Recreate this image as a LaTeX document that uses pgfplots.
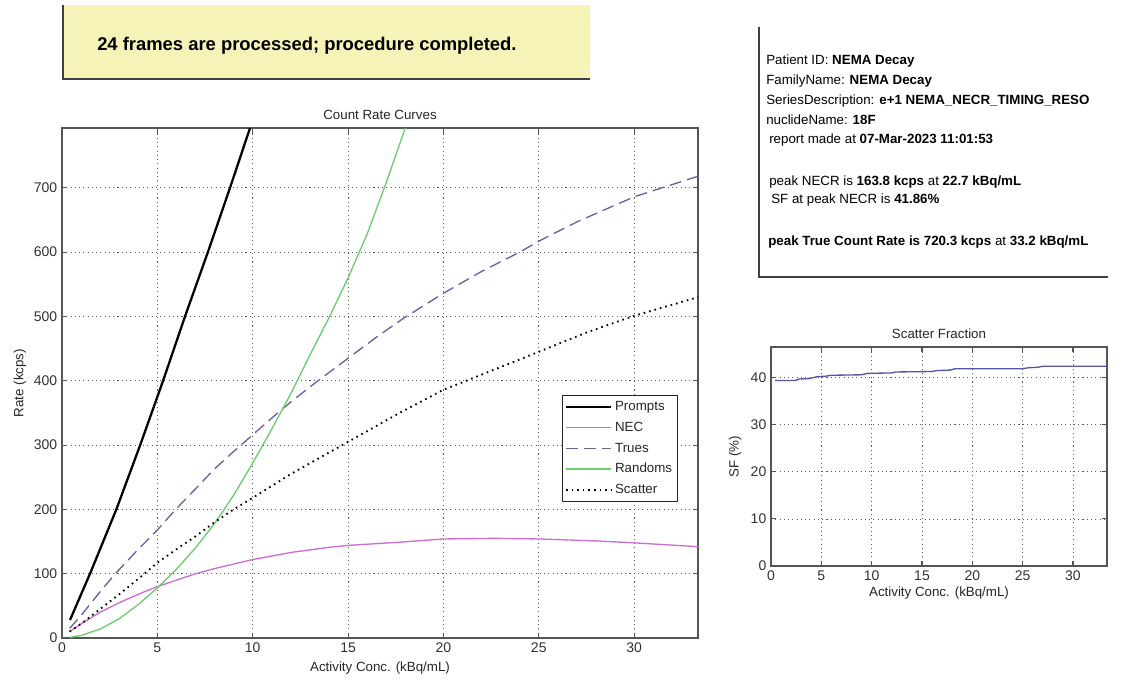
\documentclass[border=0pt]{standalone}
\usepackage{pgfplots}
\pgfplotsset{compat=1.18}
\usepackage{fontspec}
\setmainfont{Liberation Sans}
\definecolor{boxyellow}{RGB}{246,243,185}
\definecolor{necc}{RGB}{205,110,210}
\definecolor{truec}{RGB}{100,100,165}
\definecolor{randc}{RGB}{110,205,110}
\definecolor{sfc}{RGB}{85,85,165}
\definecolor{framec}{RGB}{85,85,85}
\pgfplotsset{
  mlab/.style={
    scale only axis,
    /pgf/number format/assume math mode=true,
    grid=major,
    grid style={black!65, line width=0.6pt, dash pattern=on 0.8pt off 2.4pt},
    axis line style={framec, line width=0.9pt},
    tick style={framec, line width=0.8pt},
    major tick length=4pt,
    tick align=inside,
    tick label style={font=\fontsize{10.5}{12}\selectfont, text=black!80},
    label style={font=\fontsize{10}{12}\selectfont, text=black!85},
    title style={font=\fontsize{10}{12}\selectfont, text=black!85},
  }
}
\begin{document}
\begin{tikzpicture}[x=0.75pt,y=-0.75pt]
\fill[white] (0,0) rectangle (1130,683);
% message box
\fill[boxyellow] (63,5) rectangle (590,79);
\draw[black!75, line width=1.1pt] (63,5) -- (63,79) -- (590,79);
\node[anchor=west, inner sep=0pt, font=\fontsize{13.8}{16}\selectfont\bfseries] at (97,46) {24 frames are processed; procedure completed.};
% info box
\draw[black!75, line width=0.9pt] (759,27) -- (759,277) -- (1108,277);
\begin{scope}[every node/.style={anchor=west, inner sep=0pt, font=\fontsize{10}{11}\selectfont}]
\node at (766,61) {Patient ID: \textbf{NEMA Decay}};
\node at (766,81) {FamilyName: \textbf{NEMA Decay}};
\node at (766,101) {SeriesDescription: \textbf{e+1 NEMA\_NECR\_TIMING\_RESO}};
\node at (766,120) {nuclideName: \textbf{18F}};
\node at (769,140) {report made at \textbf{07-Mar-2023 11:01:53}};
\node at (769,182) {peak NECR is \textbf{163.8 kcps} at \textbf{22.7 kBq/mL}};
\node at (771,200) {SF at peak NECR is \textbf{41.86\%}};
\node at (768,242) {\textbf{peak True Count Rate is 720.3 kcps} at \textbf{33.2 kBq/mL}};
\end{scope}

\begin{axis}[mlab,
  at={(46.5pt,-478.5pt)}, anchor=south west,
  width=477pt, height=382.5pt,
  xmin=0, xmax=33.35, ymin=0, ymax=793,
  xtick={0,5,...,30}, ytick={0,100,...,700},
  title={Count Rate Curves},
  title style={at={(axis description cs:0.5,1.0098)}, anchor=center, yshift=0pt},
  xlabel={Activity Conc. (kBq/mL)},
  xlabel style={at={(axis description cs:0.5,-0.0588)}, anchor=center},
  ylabel={Rate (kcps)},
  ylabel style={at={(axis description cs:-0.066,0.5)}, anchor=center},
  legend style={at={(0.9686,0.2667)}, anchor=south east, draw=black!85, line width=0.8pt,
    font=\fontsize{10}{12}\selectfont, row sep=2pt, inner sep=2pt,
    nodes={text height=7.5pt, text depth=2pt, inner sep=2pt, text=black!85}},
  legend cell align=left,
  legend image code/.code={\draw[#1] (0pt,0pt) -- (34pt,0pt);},
]
\addplot[black, line width=1.7pt] coordinates {
(0.42,28) (1.47,100) (2.85,200) (4.1,300) (5.3,400) (6.45,500) (7.65,600) (8.81,700) (9.86,793) (10.1,815)};
\addlegendentry{Prompts}
\addplot[necc, line width=1pt] coordinates {
(0.4,10) (1,22) (2,40) (3,55) (4,68) (5,80) (6,90) (7,100) (8,108) (9,115) (10,122) (12,133) (14,141) (15,144) (17.7,149) (20,154) (22.7,155) (25,154) (28,151) (30,148) (33.35,142)};
\addlegendentry{NEC}
\addplot[truec, line width=1pt, dash pattern=on 9pt off 4.5pt] coordinates {
(0.4,15) (1,35) (2,72) (2.8,100) (4,138) (5,168) (5.9,198) (7,232) (8,263) (9,290) (10,316) (11,342) (12,367) (13.2,395) (15,435) (16.5,468) (17.9,497) (20,536) (22,570) (24,600) (25,617) (27,647) (30,686) (33.35,718)};
\addlegendentry{Trues}
\addplot[randc, line width=1pt] coordinates {
(0.4,1) (1,4) (2,14) (3,30) (4,52) (5,78) (6,107) (7,140) (8,178) (9,222) (10,272) (11,325) (12,380) (13,440) (14,498) (15,560) (16,628) (17,708) (18,793) (18.3,820)};
\addlegendentry{Randoms}
\addplot[black, line width=1.4pt, dash pattern=on 1.2pt off 3pt] coordinates {
(0.4,10) (1,22) (2,45) (3,68) (4,92) (5,117) (6,138) (7,158) (8,180) (9,200) (10,218) (12,255) (15,305) (17.7,350) (20,386) (21.2,400) (25,445) (27.5,475) (29.9,500) (33.35,530)};
\addlegendentry{Scatter}
\end{axis}

\begin{axis}[mlab,
  at={(578.25pt,-424.5pt)}, anchor=south west,
  width=252pt, height=164.25pt,
  xmin=0, xmax=33.38, ymin=0, ymax=46.5,
  xtick={0,5,...,30}, ytick={0,10,...,40},
  title={Scatter Fraction},
  title style={at={(axis description cs:0.5,1.023)}, anchor=center, yshift=0pt},
  xlabel={Activity Conc. (kBq/mL)},
  xlabel style={at={(axis description cs:0.5,-0.123)}, anchor=center},
  ylabel={SF (\%)},
  ylabel style={at={(axis description cs:-0.107,0.498)}, anchor=center},
]
\addplot[sfc, line width=1pt] coordinates {
(0.4,39.4) (2.4,39.4) (2.8,39.7) (3.8,39.8) (4.6,40.2) (5.4,40.3) (6.0,40.5) (9.0,40.6) (9.6,40.9) (12.0,41.0) (12.4,41.2) (16.0,41.3) (16.5,41.5) (17.8,41.6) (18.3,41.9) (25.0,41.9) (25.6,42.1) (26.5,42.2) (27.0,42.4) (33.38,42.4)};
\end{axis}
\end{tikzpicture}
\end{document}
